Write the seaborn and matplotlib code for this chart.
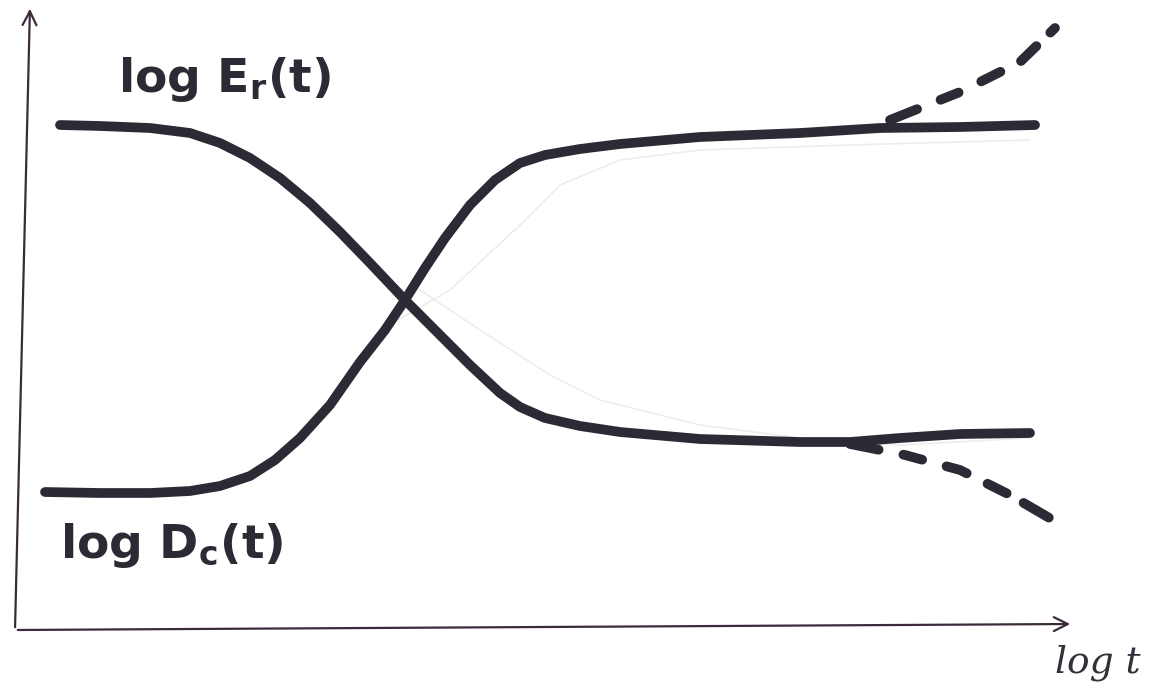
import numpy as np
import pandas as pd
import matplotlib
matplotlib.use("Agg")
import matplotlib.pyplot as plt
import seaborn as sns

# skica: log Er(t) opada, log Dc(t) raste, crtano rukom
er_x = [0.45, 0.85, 1.35, 1.75, 2.05, 2.35, 2.65, 2.95, 3.25, 3.55, 3.90, 4.25,
        4.55, 4.85, 5.05, 5.30, 5.65, 6.05, 6.85, 7.85, 8.35, 8.85, 9.45, 10.15]
er_y = [5.05, 5.04, 5.02, 4.97, 4.87, 4.72, 4.52, 4.27, 3.98, 3.67, 3.30, 2.95,
        2.65, 2.37, 2.23, 2.12, 2.04, 1.98, 1.91, 1.88, 1.88, 1.92, 1.96, 1.97]

dc_x = [0.30, 0.85, 1.35, 1.75, 2.05, 2.35, 2.60, 2.85, 3.15, 3.45, 3.70, 3.90, 4.10,
        4.30, 4.55, 4.80, 5.05, 5.30, 5.65, 6.05, 6.85, 7.85, 8.65, 9.45, 10.20]
dc_y = [1.38, 1.37, 1.37, 1.39, 1.44, 1.54, 1.70, 1.92, 2.25, 2.68, 3.00, 3.30, 3.62,
        3.92, 4.25, 4.50, 4.67, 4.75, 4.81, 4.86, 4.93, 4.97, 5.02, 5.03, 5.05]

# isprekidani nastavci na kraju
dc_dash_x = [8.75, 9.45, 10.05, 10.40]
dc_dash_y = [5.10, 5.38, 5.68, 6.02]
er_dash_x = [8.35, 8.90, 9.45, 9.95, 10.43]
er_dash_y = [1.86, 1.75, 1.60, 1.35, 1.07]

# bledi tragovi olovke
faint_up_x = [3.65, 4.35, 5.05, 5.45, 6.05, 6.85, 8.35, 10.15]
faint_up_y = [3.00, 3.40, 4.05, 4.45, 4.70, 4.80, 4.85, 4.90]
faint_dn_x = [4.05, 4.65, 5.35, 5.85, 6.85, 7.85, 8.85, 10.15]
faint_dn_y = [3.40, 3.00, 2.55, 2.30, 2.05, 1.92, 1.85, 1.92]

ink = "#2b2b35"

sns.set_style("white")
fig = plt.figure(figsize=(11.63, 6.97), dpi=100)
ax = fig.add_axes([0, 0, 1, 1])

for fx, fy in [(faint_up_x, faint_up_y), (faint_dn_x, faint_dn_y)]:
    sns.lineplot(x=fx, y=fy, ax=ax, sort=False, estimator=None, color="#eceeec", lw=1.2)

for cx, cy in [(er_x, er_y), (dc_x, dc_y)]:
    sns.lineplot(x=cx, y=cy, ax=ax, sort=False, estimator=None, color=ink, lw=7,
                 solid_capstyle="round", solid_joinstyle="round")

# prvo kratak pun deo koji se stapa sa linijom, pa crtice
for dx, dy in [(dc_dash_x, dc_dash_y), (er_dash_x, er_dash_y)]:
    sns.lineplot(x=dx, y=dy, ax=ax, sort=False, estimator=None, color=ink, lw=7,
                 dashes=False, linestyle=(0, (3.0, 2.6, 2.0, 2.6, 2.2, 2.4, 2.2, 2.0)),
                 dash_capstyle="round")

# ose sa strelicama
axis_col = "#3a2a3a"
ax.annotate("", xy=(0.15, 6.24), xytext=(0.0, 0.0),
            arrowprops=dict(arrowstyle="->", color=axis_col, lw=1.6, mutation_scale=25))
ax.annotate("", xy=(10.58, 0.06), xytext=(0.0, 0.0),
            arrowprops=dict(arrowstyle="->", color=axis_col, lw=1.6, mutation_scale=25))

ax.text(2.10, 5.50, r"log E$_{\mathregular{r}}$(t)", fontsize=34, fontweight="bold",
        color=ink, ha="center", va="center")
ax.text(1.57, 0.85, r"log D$_{\mathregular{c}}$(t)", fontsize=34, fontweight="bold",
        color=ink, ha="center", va="center")
ax.text(10.83, -0.33, "log t", fontsize=27, style="italic", family="DejaVu Serif",
        color="#33303a", ha="center", va="center")

ax.set_xlim(-0.15, 11.48)
ax.set_ylim(-0.67, 6.30)
ax.axis("off")

plt.savefig("out.png", dpi=100)
